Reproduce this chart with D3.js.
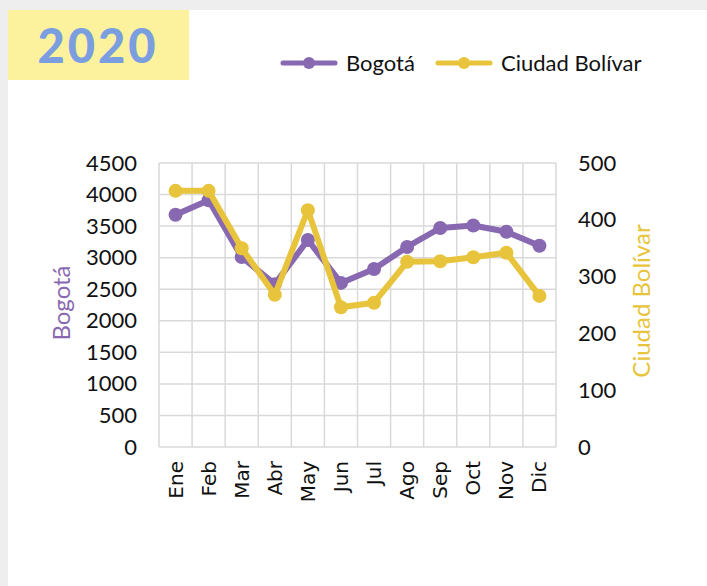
<!DOCTYPE html>
<html>
<head>
<meta charset="utf-8">
<script src="https://cdn.jsdelivr.net/npm/d3@7"></script>
<style>
  html, body { margin: 0; padding: 0; background: #eeeeee; }
  #chart { width: 707px; height: 586px; }
</style>
</head>
<body>
<div id="chart"></div>
<script>
var months = ['Ene', 'Feb', 'Mar', 'Abr', 'May', 'Jun', 'Jul', 'Ago', 'Sep', 'Oct', 'Nov', 'Dic'];
var bogota = [3680, 3910, 3010, 2580, 3280, 2600, 2820, 3170, 3470, 3510, 3410, 3190];
var ciudadBolivar = [451, 451, 350, 268, 417, 246, 254, 326, 327, 334, 342, 266];
var leftTicks = [0, 500, 1000, 1500, 2000, 2500, 3000, 3500, 4000, 4500];
var rightTicks = [0, 100, 200, 300, 400, 500];

var purple = '#8868b1';
var yellow = '#e7c43b';

var W = 707, H = 586;
var plot = { left: 159, right: 556, top: 163, bottom: 447 };

var svg = d3.select('#chart')
    .append('svg')
    .attr('width', W)
    .attr('height', H);

// white card
svg.append('rect')
    .attr('x', 8).attr('y', 10)
    .attr('width', W - 8).attr('height', H - 10)
    .attr('fill', '#ffffff');

// year badge
svg.append('rect')
    .attr('x', 8).attr('y', 10)
    .attr('width', 181).attr('height', 70)
    .attr('fill', '#fcf19c');

svg.append('text')
    .attr('x', 98).attr('y', 63)
    .attr('text-anchor', 'middle')
    .attr('font-family', 'Lato, sans-serif')
    .attr('font-weight', 900)
    .attr('font-size', 47)
    .attr('letter-spacing', 3)
    .attr('fill', '#7a9ee0')
    .text('2020');

var x = d3.scaleBand()
    .domain(months)
    .range([plot.left, plot.right]);

var yLeft = d3.scaleLinear()
    .domain([0, 4500])
    .range([plot.bottom, plot.top]);

var yRight = d3.scaleLinear()
    .domain([0, 500])
    .range([plot.bottom, plot.top]);

// grid
var grid = svg.append('g')
    .attr('stroke', '#d9d9d9')
    .attr('stroke-width', 1.5);

grid.selectAll('.h')
    .data(leftTicks)
    .enter()
    .append('line')
    .attr('x1', plot.left).attr('x2', plot.right)
    .attr('y1', function (d) { return yLeft(d); })
    .attr('y2', function (d) { return yLeft(d); });

var bounds = months.map(function (m) { return x(m); }).concat([plot.right]);
grid.selectAll('.v')
    .data(bounds)
    .enter()
    .append('line')
    .attr('y1', plot.top).attr('y2', plot.bottom)
    .attr('x1', function (d) { return d; })
    .attr('x2', function (d) { return d; });

// left axis
var leftAxis = svg.append('g')
    .attr('transform', 'translate(' + (plot.left - 22) + ',0)')
    .call(d3.axisLeft(yLeft).tickValues(leftTicks).tickFormat(d3.format('d')).tickSize(0).tickPadding(0));
leftAxis.select('.domain').remove();
leftAxis.selectAll('text')
    .attr('font-family', 'Lato, sans-serif')
    .attr('font-size', 22)
    .attr('fill', '#111');

// right axis
var rightAxis = svg.append('g')
    .attr('transform', 'translate(' + (plot.right + 22) + ',0)')
    .call(d3.axisRight(yRight).tickValues(rightTicks).tickFormat(d3.format('d')).tickSize(0).tickPadding(0));
rightAxis.select('.domain').remove();
rightAxis.selectAll('text')
    .attr('font-family', 'Lato, sans-serif')
    .attr('font-size', 22)
    .attr('fill', '#111');

// month labels
var bottomAxis = svg.append('g')
    .attr('transform', 'translate(0,' + (plot.bottom + 14) + ')')
    .call(d3.axisBottom(x).tickSize(0).tickPadding(0));
bottomAxis.select('.domain').remove();
bottomAxis.selectAll('text')
    .attr('font-family', '"DejaVu Sans", sans-serif')
    .attr('font-size', 20)
    .attr('fill', '#111')
    .attr('text-anchor', 'end')
    .attr('dy', '0.35em')
    .attr('transform', 'rotate(-90)');

// axis titles
svg.append('text')
    .attr('transform', 'translate(70,303) rotate(-90)')
    .attr('text-anchor', 'middle')
    .attr('font-family', 'Lato, sans-serif')
    .attr('font-size', 24)
    .attr('fill', purple)
    .text('Bogotá');

svg.append('text')
    .attr('transform', 'translate(650,301) rotate(-90)')
    .attr('text-anchor', 'middle')
    .attr('font-family', 'Lato, sans-serif')
    .attr('font-size', 24)
    .attr('fill', yellow)
    .text('Ciudad Bolívar');

// series
var series = [
    { name: 'Bogotá', values: bogota, scale: yLeft, color: purple },
    { name: 'Ciudad Bolívar', values: ciudadBolivar, scale: yRight, color: yellow }
];

series.forEach(function (s) {
    var line = d3.line()
        .x(function (d, i) { return x(months[i]) + x.bandwidth() / 2; })
        .y(function (d) { return s.scale(d); });

    svg.append('path')
        .datum(s.values)
        .attr('d', line)
        .attr('fill', 'none')
        .attr('stroke', s.color)
        .attr('stroke-width', 6)
        .attr('stroke-linejoin', 'round');

    svg.append('g')
        .selectAll('circle')
        .data(s.values)
        .enter()
        .append('circle')
        .attr('cx', function (d, i) { return x(months[i]) + x.bandwidth() / 2; })
        .attr('cy', function (d) { return s.scale(d); })
        .attr('r', 7)
        .attr('fill', s.color);
});

// legend
var legendItems = [
    { name: 'Bogotá', color: purple, x: 283 },
    { name: 'Ciudad Bolívar', color: yellow, x: 438 }
];

var legend = svg.append('g');
legendItems.forEach(function (d) {
    var g = legend.append('g').attr('transform', 'translate(' + d.x + ',63)');
    g.append('line')
        .attr('x1', 0).attr('x2', 52)
        .attr('stroke', d.color)
        .attr('stroke-width', 5)
        .attr('stroke-linecap', 'round');
    g.append('circle')
        .attr('cx', 26).attr('r', 6)
        .attr('fill', d.color);
    g.append('text')
        .attr('x', 63).attr('dy', '0.35em')
        .attr('font-family', 'Lato, sans-serif')
        .attr('font-size', 22)
        .attr('fill', '#111')
        .text(d.name);
});
</script>
</body>
</html>
